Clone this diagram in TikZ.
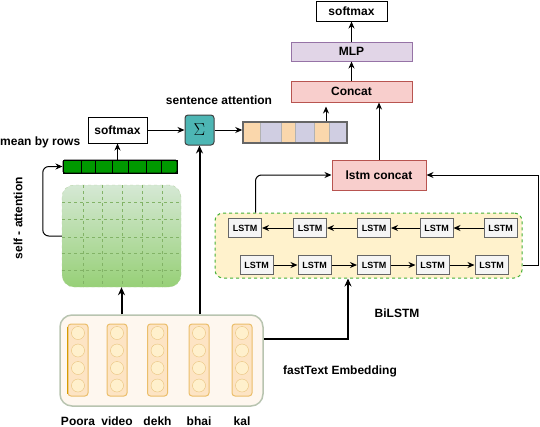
\documentclass[tikz,border=0pt]{standalone}
\usepackage{fontspec}
\setmainfont{Liberation Sans}
\usetikzlibrary{arrows.meta,positioning}

\definecolor{redfill}{HTML}{F8CECC}
\definecolor{redline}{HTML}{B85450}
\definecolor{purplefill}{HTML}{E1D5E7}
\definecolor{purpleline}{HTML}{9673A6}
\definecolor{orangefill}{HTML}{FAD7AC}
\definecolor{bluefill}{HTML}{D0CEE2}
\definecolor{tealfill}{HTML}{4DB6B4}
\definecolor{darkgreen}{HTML}{009900}
\definecolor{lightgreen}{HTML}{D5E8D4}
\definecolor{midgreen}{HTML}{97D077}
\definecolor{gridgreen}{HTML}{82B366}
\definecolor{yellowfill}{HTML}{FFF2CC}
\definecolor{dashgreen}{HTML}{44B035}
\definecolor{lstmfill}{HTML}{F5F5F5}
\definecolor{lstmline}{HTML}{666666}
\definecolor{embfill}{HTML}{FEF7EF}
\definecolor{embline}{HTML}{B8C4B0}
\definecolor{colfill}{HTML}{FDE4C4}
\definecolor{colline}{HTML}{EBBE6A}
\definecolor{dotfill}{HTML}{FFF0CC}
\definecolor{dotline}{HTML}{E8C27A}
\definecolor{darkorange}{HTML}{D79B00}

\begin{document}
\begin{tikzpicture}[x=1pt,y=-1pt,
  txt/.style={font=\bfseries\fontsize{12}{14}\selectfont,inner sep=0pt},
  arr/.style={-{Stealth[length=7pt,width=6pt]},line width=1pt},
  bigarr/.style={-{Stealth[length=8pt,width=7pt]},line width=2pt},
  lstm/.style={draw=lstmline,fill=lstmfill,line width=1pt,minimum width=33pt,minimum height=19pt,inner sep=0pt,font=\bfseries\fontsize{9}{10}\selectfont},
  redbox/.style={draw=redline,fill=redfill,line width=1pt,txt},
  embcol/.style={draw=colline,fill=colfill,line width=1pt,rounded corners=3pt,minimum width=20pt,minimum height=72pt,inner sep=0pt},
  dot/.style={circle,draw=dotline,fill=dotfill,minimum size=13pt,inner sep=0pt}]
\useasboundingbox (0,0) rectangle (540,426);

% output side
\node[draw,line width=1pt,fill=white,minimum width=71pt,minimum height=20pt,txt] (outsm) at (351.5,11) {softmax};
\node[draw=purpleline,fill=purplefill,line width=1pt,minimum width=121pt,minimum height=19pt,txt] (mlp) at (351.5,51.5) {MLP};
\node[redbox,minimum width=121pt,minimum height=21pt] (concat) at (351.5,91.5) {Concat};
\node[redbox,minimum width=94pt,minimum height=30pt] (lstmcat) at (379,175) {lstm concat};

% sentence vector
\foreach \a/\b/\c in {243/260/orangefill,260/281/bluefill,281/295/orangefill,295/314/bluefill,314/329/orangefill,329/347/bluefill}
  \fill[\c] (\a,122) rectangle (\b,143);
\foreach \b in {260,281,295,314,329}
  \draw[gray!60] (\b,122) -- (\b,143);
\node[draw=lstmline,line width=1.5pt,minimum width=104pt,minimum height=21pt,inner sep=0pt] (sentvec) at (295,132.5) {};

\node[draw=black!75,fill=tealfill,line width=1pt,rounded corners=3pt,minimum width=29pt,minimum height=30pt,inner sep=0pt,font=\fontsize{19}{21}\selectfont] (sigma) at (199.5,130) {$\Sigma$};
\node[draw,line width=1pt,fill=white,minimum width=59pt,minimum height=26pt,txt] (softmaxL) at (117.5,130) {softmax};
\node[txt] (sentatt) at (219,100) {sentence attention};
\node[txt,anchor=west] (meanrows) at (0,142) {mean by rows};

% mean vector
\foreach \a/\b in {63/81,81/95,95/112,112/128,128/146,146/161,161/177}
  \filldraw[fill=darkgreen,draw=black] (\a,160) rectangle (\b,173);
\node[draw=black,line width=1pt,rounded corners=1.5pt,minimum width=114pt,minimum height=13pt,inner sep=0pt] (gvec) at (120,166.5) {};

% attention matrix
\node[draw=gridgreen!60,dashed,top color=lightgreen,bottom color=midgreen,rounded corners=12pt,minimum width=119pt,minimum height=102pt,inner sep=0pt] (mat) at (121.5,236) {};
\foreach \x in {83,102,122,142,162}
  \draw[gridgreen,dashed] (\x,185) -- (\x,287);
\foreach \y in {202,219,237,253,270}
  \draw[gridgreen,dashed] (62,\y) -- (181,\y);
\node[txt,rotate=90] (selfatt) at (18,218) {self - attention};

% BiLSTM
\node[draw=dashgreen,dashed,fill=yellowfill,rounded corners=8pt,line width=1pt,minimum width=307pt,minimum height=65pt,inner sep=0pt] (bilstm) at (368.5,245.5) {};
\foreach \x [count=\i] in {245,310,374,436.5,500.5}
  \node[lstm] (b\i) at (\x,228) {LSTM};
\foreach \x [count=\i] in {256.5,314.5,374,432.5,491.5}
  \node[lstm] (f\i) at (\x,265) {LSTM};
\foreach \i/\j in {5/4,4/3,3/2,2/1}
  \draw[arr] (b\i) -- (b\j);
\foreach \i/\j in {1/2,2/3,3/4,4/5}
  \draw[arr] (f\i) -- (f\j);
\node[txt] (bilabel) at (397,313) {BiLSTM};

% embeddings
\node[draw=embline,fill=embfill,line width=1.5pt,rounded corners=12pt,minimum width=203pt,minimum height=91pt,inner sep=0pt] (emb) at (161.5,360.5) {};
\foreach \x/\w [count=\i] in {78/Poora,117/video,157.5/dekh,199/bhai,242/kal}{
  \node[embcol] (col\i) at (\x,360) {};
  \foreach \y in {333,350.5,368,385.5}
    \node[dot] at (\x,\y) {};
  \node[txt,anchor=base] (w\i) at (\x,425) {\w};
}
\draw[darkorange,line width=1.5pt] ([yshift=-3pt]col1.north west) -- ([yshift=3pt]col1.south west);
\node[txt] (emblabel) at (340,371) {fastText Embedding};

% connectors
\draw[arr] (concat) -- (mlp);
\draw[arr] (mlp) -- (outsm);
\draw[arr] (lstmcat.north) -- (lstmcat.north |- concat.south);
\draw[arr] ([xshift=31pt]sentvec.north) -- ([xshift=-25.5pt,yshift=-4pt]concat.south);
\draw[arr] (softmaxL.east) -- (softmaxL.east -| sigma.west);
\draw[arr] (sigma.east) -- (sigma.east -| sentvec.west);
\draw[arr] (softmaxL.south |- gvec.north) -- (softmaxL.south);
\draw[arr,rounded corners=6pt] (mat.west) -- ++(-19,0) |- (gvec.west);
\draw[bigarr] (emb.north -| mat.south) -- (mat.south);
\draw[bigarr] (emb.north -| sigma.south) -- (sigma.south);
\draw[bigarr] ([yshift=22pt]emb.east) -| ([xshift=-20.5pt]bilstm.south);
\draw[arr,rounded corners=6pt] ([xshift=41pt]bilstm.north west) |- (lstmcat.west);
\draw[arr] ([yshift=-19.5pt]bilstm.east) -- ++(16,0) |- (lstmcat.east);

\end{tikzpicture}
\end{document}
